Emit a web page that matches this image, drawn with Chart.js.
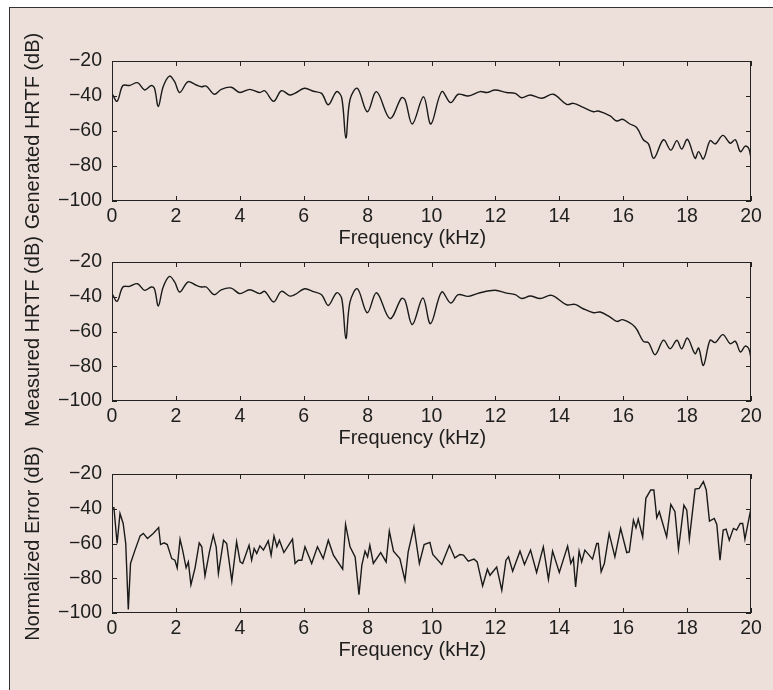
<!DOCTYPE html>
<html>
<head>
<meta charset="utf-8">
<script src="https://cdn.jsdelivr.net/npm/chart.js@4.4.1/dist/chart.umd.min.js"></script>
<style>
  html, body { margin: 0; padding: 0; background: #ffffff; overflow: hidden; }
  body { width: 773px; height: 690px; position: relative; }
  #frame { position: absolute; left: 9px; top: 7px; width: 780px; height: 700px;
           background: #ede0da; border-left: 1.5px solid #333; border-top: 1.5px solid #333; }
  canvas { position: absolute; left: 0; }
</style>
</head>
<body>
<div id="frame"></div>
<canvas id="c1" width="773" height="232" style="top:21px"></canvas>
<canvas id="c2" width="773" height="231" style="top:222px"></canvas>
<canvas id="c3" width="773" height="231" style="top:434px"></canvas>
<script>
// ---- tick labels ----
const xTicks = [0, 2, 4, 6, 8, 10, 12, 14, 16, 18, 20];
const yTicks = [-100, -80, -60, -40, -20];
const xTitle = 'Frequency (kHz)';
const yTitles = ['Generated HRTF (dB)', 'Measured HRTF (dB)', 'Normalized Error (dB)'];

// ---- Generated HRTF ----
const genFreq = [0,0.16,0.34,0.55,0.8,1.02,1.23,1.33,1.45,1.6,1.8,1.96,2.12,2.38,2.64,2.8,2.95,3.2,3.42,3.73,4.0,4.31,4.62,4.78,5.06,5.3,5.56,5.72,6.03,6.3,6.56,6.77,7.03,7.19,7.32,7.45,7.68,7.99,8.28,8.7,9.06,9.17,9.4,9.75,9.98,10.32,10.6,10.84,11.15,11.52,11.73,11.99,12.35,12.62,12.82,13.09,13.45,13.81,14.23,14.44,14.75,15.07,15.22,15.59,15.8,15.98,16.21,16.42,16.63,16.79,16.96,17.26,17.49,17.68,17.83,18.01,18.25,18.36,18.51,18.72,18.88,19.12,19.35,19.51,19.67,19.82,19.93,20];
const genDb = [-38.5,-43,-34,-34,-32.4,-36.6,-34,-35.6,-46,-34.7,-28.6,-31.8,-38,-31.8,-33.7,-34.7,-34.3,-39,-36.2,-35,-38,-36.2,-38,-37,-43,-37,-39.4,-38.5,-35.6,-37.3,-38.5,-45,-37.5,-41,-64,-42,-35.6,-49,-37.5,-52.8,-41,-42,-56,-40.4,-56,-37.5,-43.8,-39,-40,-37.5,-38,-36.6,-38,-38.5,-41,-39.4,-41.3,-39,-44.8,-44.2,-46.5,-49,-48.6,-51.4,-54.3,-53.3,-56,-58,-65,-67.4,-75.6,-65,-70.9,-65.5,-70.3,-64.8,-75.6,-71.8,-76,-65.5,-67.4,-62.5,-67,-65,-71.8,-68.6,-70,-75.6];

// ---- Measured HRTF ----
const measFreq = [0,0.16,0.34,0.55,0.8,1.02,1.23,1.33,1.45,1.6,1.8,1.96,2.12,2.38,2.64,2.8,2.95,3.2,3.42,3.73,4.0,4.31,4.62,4.78,5.06,5.3,5.56,5.72,6.03,6.3,6.56,6.77,7.03,7.19,7.32,7.45,7.68,7.99,8.28,8.7,9.06,9.17,9.4,9.73,9.97,10.32,10.6,10.84,11.15,11.52,11.99,12.35,12.62,12.82,13.09,13.4,13.76,14.23,14.49,14.75,15.07,15.28,15.59,15.8,15.98,16.37,16.63,16.79,17.0,17.26,17.47,17.68,17.83,18.01,18.25,18.36,18.51,18.72,18.88,19.12,19.35,19.51,19.67,19.82,19.93,20];
const measDb = [-38.2,-42.6,-34.4,-34,-32.5,-36.3,-34.4,-35.5,-45.3,-34.5,-28.3,-31.5,-37.3,-31.5,-33.5,-34.4,-34.4,-38.8,-36,-35,-38.2,-36,-38.2,-36.9,-43,-36.9,-39.6,-38.8,-35.4,-37,-38.8,-45,-37.7,-41,-64,-43,-35.4,-49.2,-37.7,-52.6,-41,-42,-56,-40.7,-55.5,-37.3,-43.6,-38.8,-39.8,-37.7,-36.3,-37.9,-38.8,-41,-39.6,-41,-39.2,-44.6,-44.4,-46.9,-49.2,-48.8,-51.7,-54.2,-53.2,-57.4,-65.7,-66.4,-73.4,-65,-69.9,-65,-69.9,-63.8,-72.8,-69.5,-79.5,-65,-66.4,-61.8,-67,-65.7,-71.8,-68.4,-69.9,-75.7];

// ---- Normalized Error ----
const errFreq = [0,0.06,0.16,0.25,0.35,0.43,0.51,0.58,0.72,0.88,0.98,1.11,1.29,1.46,1.52,1.63,1.73,1.87,1.97,2.04,2.13,2.21,2.32,2.39,2.47,2.6,2.73,2.81,2.91,3.05,3.17,3.26,3.33,3.49,3.59,3.75,3.9,4.01,4.09,4.29,4.37,4.45,4.53,4.63,4.74,4.89,4.98,5.07,5.16,5.24,5.38,5.65,5.73,5.83,5.94,6.04,6.25,6.43,6.61,6.77,6.93,7.22,7.31,7.45,7.61,7.73,7.82,7.92,8.0,8.07,8.18,8.41,8.58,8.68,8.81,9.01,9.17,9.27,9.45,9.62,9.77,9.95,10.04,10.32,10.56,10.73,10.89,11.0,11.15,11.33,11.43,11.6,11.75,11.83,12.04,12.2,12.33,12.41,12.54,12.77,12.91,13.1,13.29,13.5,13.66,13.79,14.0,14.26,14.36,14.44,14.51,14.62,14.7,14.8,15.04,15.17,15.22,15.31,15.41,15.56,15.74,15.92,16.11,16.19,16.32,16.4,16.47,16.61,16.71,16.86,16.96,17.05,17.13,17.36,17.49,17.62,17.73,17.9,17.99,18.07,18.25,18.38,18.51,18.6,18.7,18.85,18.93,19.03,19.13,19.22,19.32,19.45,19.55,19.66,19.74,19.81,19.92,20];
const errDb = [-39.4,-39.4,-60,-42.7,-48.5,-60,-97.9,-71.5,-63.8,-55.6,-54.2,-57.1,-54.2,-50.8,-60.6,-59.6,-60.6,-68.7,-69.6,-74,-57.5,-63.8,-74,-70.6,-83.7,-74,-59.6,-61.9,-78.7,-64.8,-55.2,-61.9,-77.3,-58.1,-60,-81.7,-59,-70.6,-71.5,-61,-69.6,-62.9,-65.8,-61.3,-63.8,-58.5,-66.7,-55.6,-61.9,-58.1,-65.2,-57.5,-71.5,-69.6,-69.6,-61.9,-71.5,-61.9,-68.7,-58.1,-66.7,-74.8,-49,-61.9,-67.7,-89.4,-72.5,-64.4,-67.7,-61,-71.5,-65.2,-70.6,-52.9,-64.4,-68.7,-81.2,-64.8,-50.4,-71.5,-60.6,-59.4,-66.3,-72.1,-61,-68.3,-66.3,-66.7,-70.2,-69,-70.6,-84.4,-74.8,-78.3,-73.5,-86.9,-69.6,-67.7,-76,-64.4,-72.1,-63.8,-76.7,-61.9,-80.6,-64.4,-76.7,-61.5,-71.5,-68.3,-85,-64.4,-70.6,-63.8,-69,-60,-60,-76.3,-71.5,-54.2,-67.7,-51.3,-65.2,-64.8,-46.5,-51,-46,-56.2,-34,-29.2,-29.2,-45.2,-41.7,-56.2,-37.5,-41.7,-63.3,-37.9,-40.8,-57.5,-28.7,-28.3,-24.4,-29.2,-47.1,-45.6,-49,-69.6,-52.3,-51.7,-58.1,-51.3,-52.3,-48.5,-48.5,-57.5,-47.1,-39.8];

const FAMILY = "'Liberation Sans', Arial, Helvetica, sans-serif";
const TICK_FONT = { family: FAMILY, size: 19.5 };
const TITLE_FONT = { family: FAMILY, size: 20 };
const TEXT = '#1e1e1e';

function fmt(v) { return v < 0 ? '\u2212' + Math.abs(v) : String(v); }

const boxTicks = {
  id: 'boxTicks',
  afterDatasetsDraw(chart, args, opts) {
    const { ctx, chartArea: a, scales } = chart;
    const x = scales.x, y = scales.y;
    ctx.save();
    ctx.strokeStyle = '#222';
    ctx.lineWidth = 1;
    ctx.strokeRect(a.left + 0.5, a.top + 0.5, a.right - a.left - 1, a.bottom - a.top - 1);
    ctx.beginPath();
    const L = 5;
    x.ticks.forEach(t => {
      const p = Math.round(x.getPixelForValue(t.value)) + 0.5;
      ctx.moveTo(p, a.bottom); ctx.lineTo(p, a.bottom - L);
      ctx.moveTo(p, a.top); ctx.lineTo(p, a.top + L);
    });
    y.ticks.forEach(t => {
      const p = Math.round(y.getPixelForValue(t.value)) + 0.5;
      ctx.moveTo(a.left, p); ctx.lineTo(a.left + L, p);
      ctx.moveTo(a.right, p); ctx.lineTo(a.right - L, p);
    });
    ctx.stroke();
    ctx.font = TITLE_FONT.size + 'px ' + FAMILY;
    ctx.fillStyle = TEXT;
    ctx.textAlign = 'center';
    ctx.textBaseline = 'middle';
    // horizontal axis title (sits slightly left of centre, as in the original)
    ctx.fillText(opts.xText, a.left + (a.right - a.left) * 0.47, a.bottom + 37);
    // vertical axis title (drawn without width compression)
    ctx.translate(opts.titleX, (a.top + a.bottom) / 2);
    ctx.rotate(-Math.PI / 2);
    ctx.fillText(opts.text, 0, 0);
    ctx.restore();
  }
};

function makeChart(id, xs, ys, title, tension) {
  const pts = xs.map((v, i) => ({ x: v, y: ys[i] }));
  return new Chart(document.getElementById(id), {
    type: 'line',
    data: { datasets: [{ data: pts, borderColor: '#1a1a1a', borderWidth: 1.4,
                         pointRadius: 0, tension: tension, fill: false }] },
    options: {
      responsive: false, animation: false, devicePixelRatio: 1,
      layout: { padding: { left: 0, right: 22, top: 40, bottom: 0 } },
      plugins: { legend: { display: false }, tooltip: { enabled: false },
                 boxTicks: { text: title, titleX: 33.5, xText: xTitle } },
      scales: {
        x: {
          type: 'linear', min: 0, max: 20,
          afterBuildTicks: s => { s.ticks = xTicks.map(v => ({ value: v })); },
          afterFit: s => { s.height = 52; },
          grid: { display: false, drawTicks: false }, border: { display: false },
          ticks: { font: TICK_FONT, color: TEXT, padding: 4, maxRotation: 0, autoSkip: false, callback: fmt },
          title: { display: false }
        },
        y: {
          type: 'linear', min: -100, max: -20,
          afterBuildTicks: s => { s.ticks = yTicks.map(v => ({ value: v })); },
          afterFit: s => { s.width = 112; },
          grid: { display: false, drawTicks: false }, border: { display: false },
          ticks: { font: TICK_FONT, color: TEXT, padding: 10, autoSkip: false, callback: fmt },
          title: { display: false }
        }
      }
    },
    plugins: [boxTicks]
  });
}

makeChart('c1', genFreq, genDb, yTitles[0], 0.35);
makeChart('c2', measFreq, measDb, yTitles[1], 0.35);
makeChart('c3', errFreq, errDb, yTitles[2], 0);
</script>
</body>
</html>
